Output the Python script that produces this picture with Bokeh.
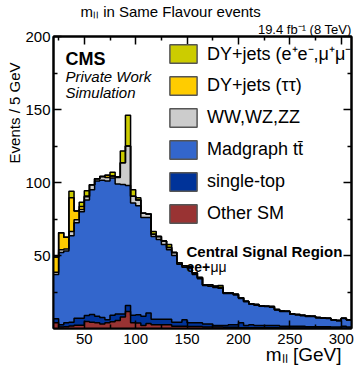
import numpy as np
from bokeh.plotting import figure
from bokeh.models import Range1d, LinearAxis, FixedTicker, Label, Legend, LegendItem, Title
from bokeh.embed import file_html
from bokeh.resources import INLINE

# ---- data (events / 5 GeV), bins from 20 to 310 GeV ----
edges = list(range(20, 315, 5))

other_sm = [3.9, 1.0, 1.2, 1.7, 2.3, 2.3, 4.8, 4.3, 4.0, 3.0,
            4.0, 4.6, 5.5, 7.8, 11.6, 4.0, 3.8, 2.0, 3.4, 2.5,
            2.5, 2.5, 2.5, 1.5, 1.5, 1.5, 1.3, 1.3, 1.3, 1.0,
            1.0, 1.0, 1.0, 0.8, 0.8, 0.8, 0.5, 0.5, 0.5, 0.5,
            0.5, 0.5, 0.5, 0.5, 0.4, 0.4, 0.3, 0.3, 0.3, 0.3,
            0.3, 0.3, 0.3, 0.3, 0.2, 0.2, 0.2, 0.2]
single_top = [2.7, 1.5, 2.7, 2.6, 4.7, 4.7, 4.1, 5.3, 4.4, 4.5,
              2.0, 4.4, 4.5, 2.2, 4.2, 5.0, 5.7, 6.4, 7.3, 3.9,
              3.9, 3.9, 3.9, 2.8, 2.8, 4.5, 2.7, 2.7, 2.7, 2.0,
              2.0, 1.0, 1.0, 1.2, 1.7, 1.7, 3.5, 1.5, 2.0, 1.5,
              1.5, 1.5, 1.5, 1.5, 1.1, 1.1, 1.2, 1.2, 1.2, 0.9,
              0.9, 0.9, 0.9, 0.9, 0.8, 0.8, 1.3, 0.8]
ttbar = [30.4, 49.5, 49.1, 59.2, 65.5, 73.0, 79.1, 85.4, 92.6, 94.1,
         95.0, 94.0, 89.0, 88.6, 82.2, 77.0, 74.5, 67.6, 65.3, 56.6,
         54.6, 51.1, 47.6, 45.7, 39.7, 36.0, 37.5, 33.0, 30.0, 26.5,
         26.0, 26.0, 25.5, 22.0, 21.5, 20.5, 16.5, 16.3, 14.2, 14.0,
         13.2, 13.0, 12.6, 10.7, 10.2, 10.1, 8.3, 7.9, 7.3, 7.1,
         7.0, 6.1, 5.9, 5.6, 4.9, 4.4, 5.4, 4.9]
diboson = [1.5, 2.0, 1.5, 3.0, 2.0, 1.5, 2.3, 3.5, 1.5, 2.5,
           2.5, 1.5, 4.5, 15.0, 27.0, 4.5, 4.0, 3.0, 2.5, 1.5,
           2.0, 2.5, 1.5, 2.0, 1.0, 1.0, 1.0, 1.0, 1.0, 0.5,
           1.0, 1.0, 0.5, 0.5, 0.4, 0.5, 0.5, 0.4, 0.3, 0.4,
           0.3, 0.3, 0.4, 0.3, 0.3, 0.3, 0.2, 0.2, 0.2, 0.2,
           0.2, 0.2, 0.2, 0.2, 0.1, 0.1, 0.1, 0.1]
dy_tautau = [10.5, 11.5, 8.0, 23.0, 6.0, 2.0, 0.5, 0.0, 0.0, 0.0,
             1.5, 0.0, 0.5, 0.0, 0.0, 0.0, 0.0, 0.0, 0.0, 0.0,
             0.0, 0.0, 0.0, 0.0, 0.0, 0.0, 0.0, 0.0, 0.0, 0.0,
             0.0, 0.0, 0.0, 0.0, 0.0, 0.0, 0.0, 0.0, 0.0, 0.0,
             0.0, 0.0, 0.0, 0.0, 0.0, 0.0, 0.0, 0.0, 0.0, 0.0,
             0.0, 0.0, 0.0, 0.0, 0.0, 0.0, 0.0, 0.0]
dy_eemumu = [0.0, 0.0, 0.0, 4.5, 0.0, 3.0, 3.5, 0.0, 0.0, 0.0,
             0.0, 2.5, 0.0, 8.0, 21.0, 4.5, 1.5, 0.0, 0.0, 2.0,
             0.0, 0.0, 2.0, 0.0, 0.0, 0.0, 0.0, 0.0, 0.0, 0.0,
             0.0, 0.0, 1.5, 0.0, 0.0, 0.0, 0.0, 0.0, 0.0, 0.0,
             0.0, 0.0, 0.0, 0.0, 0.0, 0.0, 0.0, 0.0, 0.0, 0.0,
             0.0, 0.0, 0.0, 0.0, 0.0, 0.0, 0.0, 0.0]

x_ticks = [50, 100, 150, 200, 250, 300]
x_minor = [25, 75, 125, 175, 225, 275]
y_ticks = [50, 100, 150, 200]
y_minor = [25, 75, 125, 175]

layers = [
    ("Other SM", other_sm, "#993333"),
    ("single-top", single_top, "#003399"),
    ("Madgraph tt\u0304", ttbar, "#3366CC"),
    ("WW,WZ,ZZ", diboson, "#CCCCCC"),
    ("DY+jets (\u03c4\u03c4)", dy_tautau, "#FFCC00"),
    ("DY+jets (e\u207ae\u207b,\u03bc\u207a\u03bc\u207b)", dy_eemumu, "#CCCC00"),
]

# ---- layout ----
W, H = 361, 365
BL, BR, BT, BB = 53, 10, 36, 37
FW, FH = W - BL - BR, H - BT - BB
X0, X1, Y0, Y1 = 20, 310, 0, 200
FONT = "Liberation Sans"

p = figure(width=W, height=H, x_range=Range1d(X0, X1), y_range=Range1d(Y0, Y1),
           output_backend="svg", toolbar_location=None, title=None,
           min_border_left=BL, min_border_right=BR, min_border_top=BT, min_border_bottom=BB)
p.grid.visible = False
p.outline_line_color = "black"
p.outline_line_width = 2
p.background_fill_color = "white"
p.border_fill_color = "white"

p.add_layout(LinearAxis(), "above")
p.add_layout(LinearAxis(), "right")


def style_axis(ax, ticks, minor, show):
    ax.ticker = FixedTicker(ticks=ticks, minor_ticks=minor)
    ax.major_tick_in = 8
    ax.major_tick_out = 0
    ax.minor_tick_in = 4
    ax.minor_tick_out = 0
    ax.axis_line_width = 2
    ax.axis_line_color = "black"
    ax.major_tick_line_width = 1.5
    ax.minor_tick_line_width = 1.5
    ax.major_tick_line_color = "black"
    ax.minor_tick_line_color = "black"
    ax.major_label_text_font = FONT
    if show:
        ax.major_label_text_color = "black"
        ax.major_label_text_font_size = "15px"
    else:
        ax.major_label_text_color = None
        ax.major_label_text_font_size = "0px"
        ax.major_label_standoff = 0


for ax in p.below:
    style_axis(ax, x_ticks, x_minor, True)
    ax.major_label_standoff = 5
for ax in p.above:
    style_axis(ax, x_ticks, x_minor, False)
for ax in p.left:
    style_axis(ax, y_ticks, y_minor, True)
    ax.major_label_standoff = 3
for ax in p.right:
    style_axis(ax, y_ticks, y_minor, False)

# ---- stacked histogram ----
lower = [0.0] * len(ttbar)
tops = []
for name, vals, col in layers:
    upper = [a + b for a, b in zip(lower, vals)]
    p.varea_step(x=edges, y1=lower + [lower[-1]], y2=upper + [upper[-1]],
                 step_mode="after", fill_color=col)
    tops.append(upper)
    lower = upper
for upper in tops:
    p.step(x=edges, y=upper + [upper[-1]], mode="after", line_color="black", line_width=1.5)

# ---- legend (swatch renderers hold one NaN row so nothing shows on the plot) ----
nan = np.array([np.nan])
items = []
for name, vals, col in reversed(layers):
    r = p.quad(left=nan, right=nan, top=nan, bottom=nan, fill_color=col,
               line_color="#555555", line_width=1.5)
    items.append(LegendItem(label=name, renderers=[r], index=0))
GH, SP = 23, 9
leg_h = 6 * GH + 5 * SP
legend = Legend(items=items, location=(166 - BL, (BT + FH) - 42 - leg_h),
                glyph_width=34, glyph_height=GH, label_height=GH, spacing=SP,
                label_standoff=7, padding=0, margin=0,
                label_text_font=FONT, label_text_font_size="18px",
                label_text_color="black",
                border_line_color=None, background_fill_alpha=0)
p.add_layout(legend)

# ---- titles outside the frame ----
p.add_layout(Title(text="19.4 fb\u207b\u00b9 (8 TeV)", align="right", standoff=0,
                   text_font=FONT, text_font_size="13px", text_font_style="normal",
                   text_color="black"), "above")
p.add_layout(Title(text="m\u2097\u2097 in Same Flavour events", align="left", offset=27,
                   standoff=0, text_font=FONT, text_font_size="15px",
                   text_font_style="normal", text_color="black"), "above")
p.add_layout(Title(text="m\u2097\u2097 [GeV]", align="right", offset=10, standoff=-9,
                   text_font=FONT, text_font_size="19px", text_font_style="normal",
                   text_color="black"), "below")
p.add_layout(Title(text="Events / 5 GeV", align="right", offset=26, standoff=0,
                   text_font=FONT, text_font_size="15px", text_font_style="normal",
                   text_color="black"), "left")


# ---- texts inside the frame (pixel positions converted to data space) ----
def dx(px):
    return X0 + (px - BL) * (X1 - X0) / FW


def dy(py):
    return Y0 + (BT + FH - py) * (Y1 - Y0) / FH


def lab(px, py, text, size, style="normal", align="left"):
    p.add_layout(Label(x=dx(px), y=dy(py), text=text, text_font=FONT,
                       text_font_size=size, text_font_style=style,
                       text_align=align, text_baseline="alphabetic",
                       text_color="black"))


lab(65, 58, "CMS", "18px", "bold")
lab(65, 76, "Private Work", "15px", "italic")
lab(65, 92, "Simulation", "15px", "italic")
lab(186, 251, "Central Signal Region", "15px", "bold")
lab(186, 266, "ee+", "14px", "bold")
lab(210, 266, "\u03bc\u03bc", "14px")

open("out.html", "w").write(file_html(p, INLINE))
